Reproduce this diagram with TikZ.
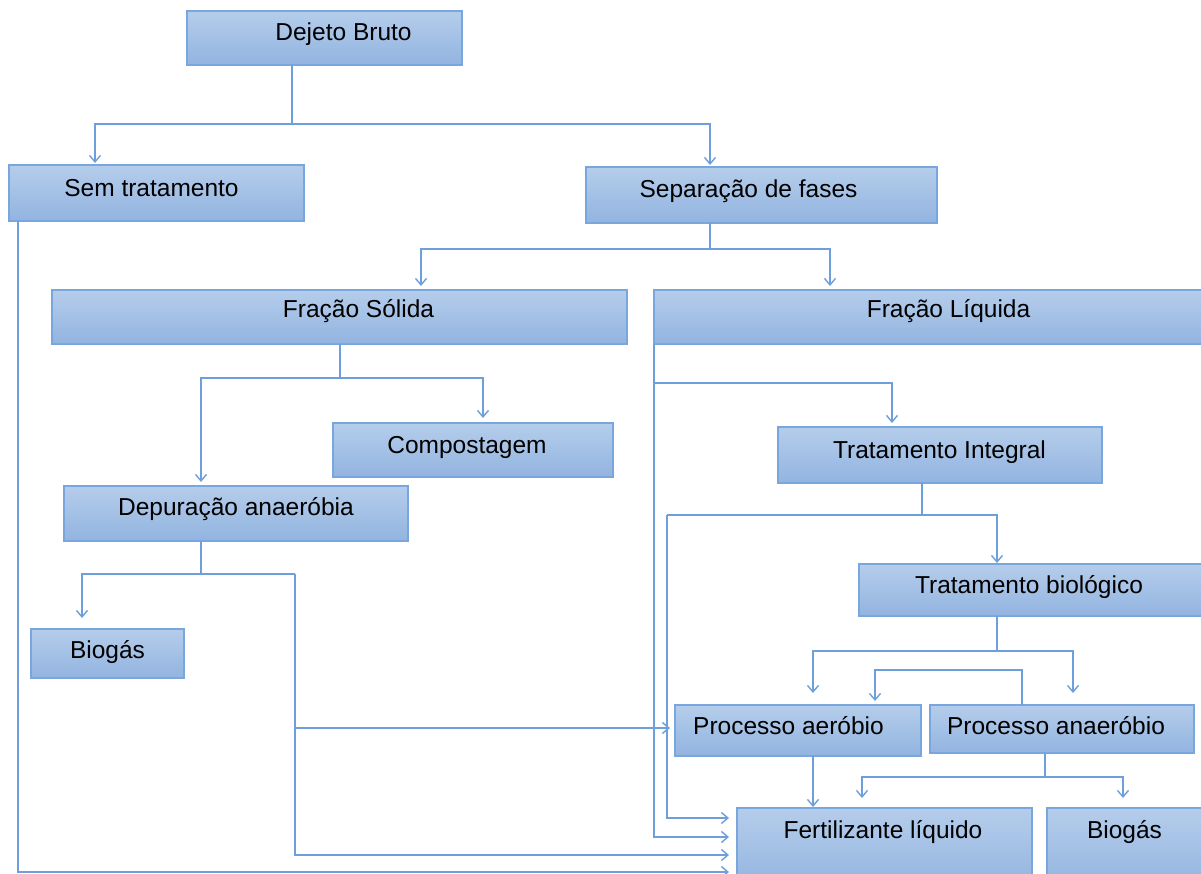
\documentclass[tikz,border=0pt]{standalone}
\usepackage{fontspec}
\setmainfont{Liberation Sans}
\usetikzlibrary{arrows.meta}
\definecolor{boxtop}{HTML}{B5CDEB}
\definecolor{boxbot}{HTML}{92B4E0}
\definecolor{boxline}{HTML}{78A6DD}
\definecolor{connc}{HTML}{6C9FDC}
\begin{document}
\begin{tikzpicture}[x=1pt,y=-1pt,
  box/.style={draw=boxline, line width=1.6pt, top color=boxtop, bottom color=boxbot, inner sep=0pt, outer sep=0pt},
  txt/.style={anchor=base, font=\fontsize{24.5}{29}\selectfont, text=black, inner sep=0pt},
  link/.style={draw=connc, line width=1.5pt},
  arr/.style={link, -{Straight Barb[length=6.5pt,width=11pt,line width=1.4pt]}, shorten >=3pt},
  gap/.style={shorten >=#1pt},
]
\clip (0,0) rectangle (1201,874);
\fill[white] (0,0) rectangle (1201,874);

% boxes
\node[box, minimum width=275pt, minimum height=54pt] (db)   at (324.5,38) {};
\node[box, minimum width=295pt, minimum height=56pt] (sem)  at (156.5,193) {};
\node[box, minimum width=351pt, minimum height=56pt] (sep)  at (761.5,195) {};
\node[box, minimum width=575pt, minimum height=54pt] (fs)   at (339.5,317) {};
\node[box, minimum width=561pt, minimum height=54pt] (fl)   at (934.5,317) {};
\node[box, minimum width=280pt, minimum height=54pt] (comp) at (473,450) {};
\node[box, minimum width=324pt, minimum height=56pt] (ti)   at (940,455) {};
\node[box, minimum width=344pt, minimum height=55pt] (dep)  at (236,513.5) {};
\node[box, minimum width=356pt, minimum height=52pt] (tb)   at (1037,590) {};
\node[box, minimum width=153pt, minimum height=49pt] (bioa) at (107.5,653.5) {};
\node[box, minimum width=246pt, minimum height=51pt] (pa)   at (798,730.5) {};
\node[box, minimum width=264pt, minimum height=48pt] (pan)  at (1062,729) {};
\node[box, minimum width=295pt, minimum height=82pt] (fert) at (884.5,849) {};
\node[box, minimum width=168pt, minimum height=82pt] (biob) at (1131,849) {};

% texts
\node[txt] (tdb)   at (343.5,41)  {Dejeto Bruto};
\node[txt] (tsem)  at (151.5,197) {Sem tratamento};
\node[txt] (tsep)  at (748.5,198) {Separação de fases};
\node[txt] (tfs)   at (358.5,318) {Fração Sólida};
\node[txt] (tfl)   at (948.5,318) {Fração Líquida};
\node[txt] (tcomp) at (467,453)   {Compostagem};
\node[txt] (tti)   at (939.5,458) {Tratamento Integral};
\node[txt] (tdep)  at (236,515)   {Depuração anaeróbia};
\node[txt] (ttb)   at (1029,593)  {Tratamento biológico};
\node[txt] (tbioa) at (107.5,658) {Biogás};
\node[txt] (tpa)   at (788.5,734) {Processo aeróbio};
\node[txt] (tpan)  at (1056,734)  {Processo anaeróbio};
\node[txt] (tfert) at (883,838)   {Fertilizante líquido};
\node[txt] (tbiob) at (1124.5,838){Biogás};

% helper coordinates
\coordinate (j1) at (292,124);
\coordinate (x95) at (95,0);
\coordinate (x710) at (710,0);
\coordinate (j2) at (710,249);
\coordinate (x421) at (421,0);
\coordinate (x830) at (830,0);
\coordinate (j3) at (340,378);
\coordinate (x201) at (201,0);
\coordinate (x483) at (483,0);
\coordinate (j4) at (654,383);
\coordinate (x892) at (892,0);
\coordinate (j5) at (654,837);
\coordinate (j6) at (922,515);
\coordinate (j6a) at (667,515);
\coordinate (j6b) at (667,818);
\coordinate (x997) at (997,0);
\coordinate (j7) at (997,651);
\coordinate (x813) at (813,0);
\coordinate (x1073) at (1073,0);
\coordinate (x1022) at (1022,0);
\coordinate (j8) at (1022,670);
\coordinate (x875) at (875,0);
\coordinate (j9) at (1045,777);
\coordinate (x862) at (862,0);
\coordinate (x1123) at (1123,0);
\coordinate (j10) at (201,574);
\coordinate (x82) at (82,0);
\coordinate (j10a) at (295,574);
\coordinate (j10b) at (295,855);
\coordinate (j10c) at (295,728);
\coordinate (x18) at (18,0);
\coordinate (j11) at (18,872);

% connectors
\draw[link] (db.south -| j1) -- (j1);
\draw[arr, gap=2] (j1) -| (sem.north -| x95);
\draw[arr, gap=2] (j1) -| (sep.north -| x710);

\draw[link] (sep.south -| j2) -- (j2);
\draw[arr, gap=4] (j2) -| (fs.north -| x421);
\draw[arr, gap=4] (j2) -| (fl.north -| x830);

\draw[link] (fs.south -| j3) -- (j3);
\draw[arr, gap=4] (j3) -| (dep.north -| x201);
\draw[arr, gap=5] (j3) -| (comp.north -| x483);

\draw[arr, gap=4] (fl.south west) -- (j4) -| (ti.north -| x892);
\draw[arr, gap=8] (fl.south west) -- (j5) -- (fert.west |- j5);

\draw[link] (ti.south -| j6) -- (j6);
\draw[arr, gap=1] (j6a) -| (tb.north -| x997);
\draw[arr, gap=8] (j6a) -- (j6b) -- (fert.west |- j6b);

\draw[link] (tb.south -| j7) -- (j7);
\draw[arr, gap=12] (j7) -| (pa.north -| x813);
\draw[arr, gap=12] (j7) -| (pan.north -| x1073);

\draw[arr, gap=4] (pan.north -| x1022) -- (j8) -| (pa.north -| x875);

\draw[arr, gap=1] (pa.south -| x813) -- (fert.north -| x813);

\draw[link] (pan.south -| j9) -- (j9);
\draw[arr, gap=10] (j9) -| (fert.north -| x862);
\draw[arr, gap=10] (j9) -| (biob.north -| x1123);

\draw[link] (dep.south -| j10) -- (j10);
\draw[arr, gap=11] (j10a) -| (bioa.north -| x82);
\draw[arr, gap=8] (j10a) -- (j10b) -- (fert.west |- j10b);
\draw[arr, gap=5] (j10c) -- (pa.west |- j10c);

\draw[arr, gap=8] (sem.south -| x18) -- (j11) -- (fert.west |- j11);
\end{tikzpicture}
\end{document}
